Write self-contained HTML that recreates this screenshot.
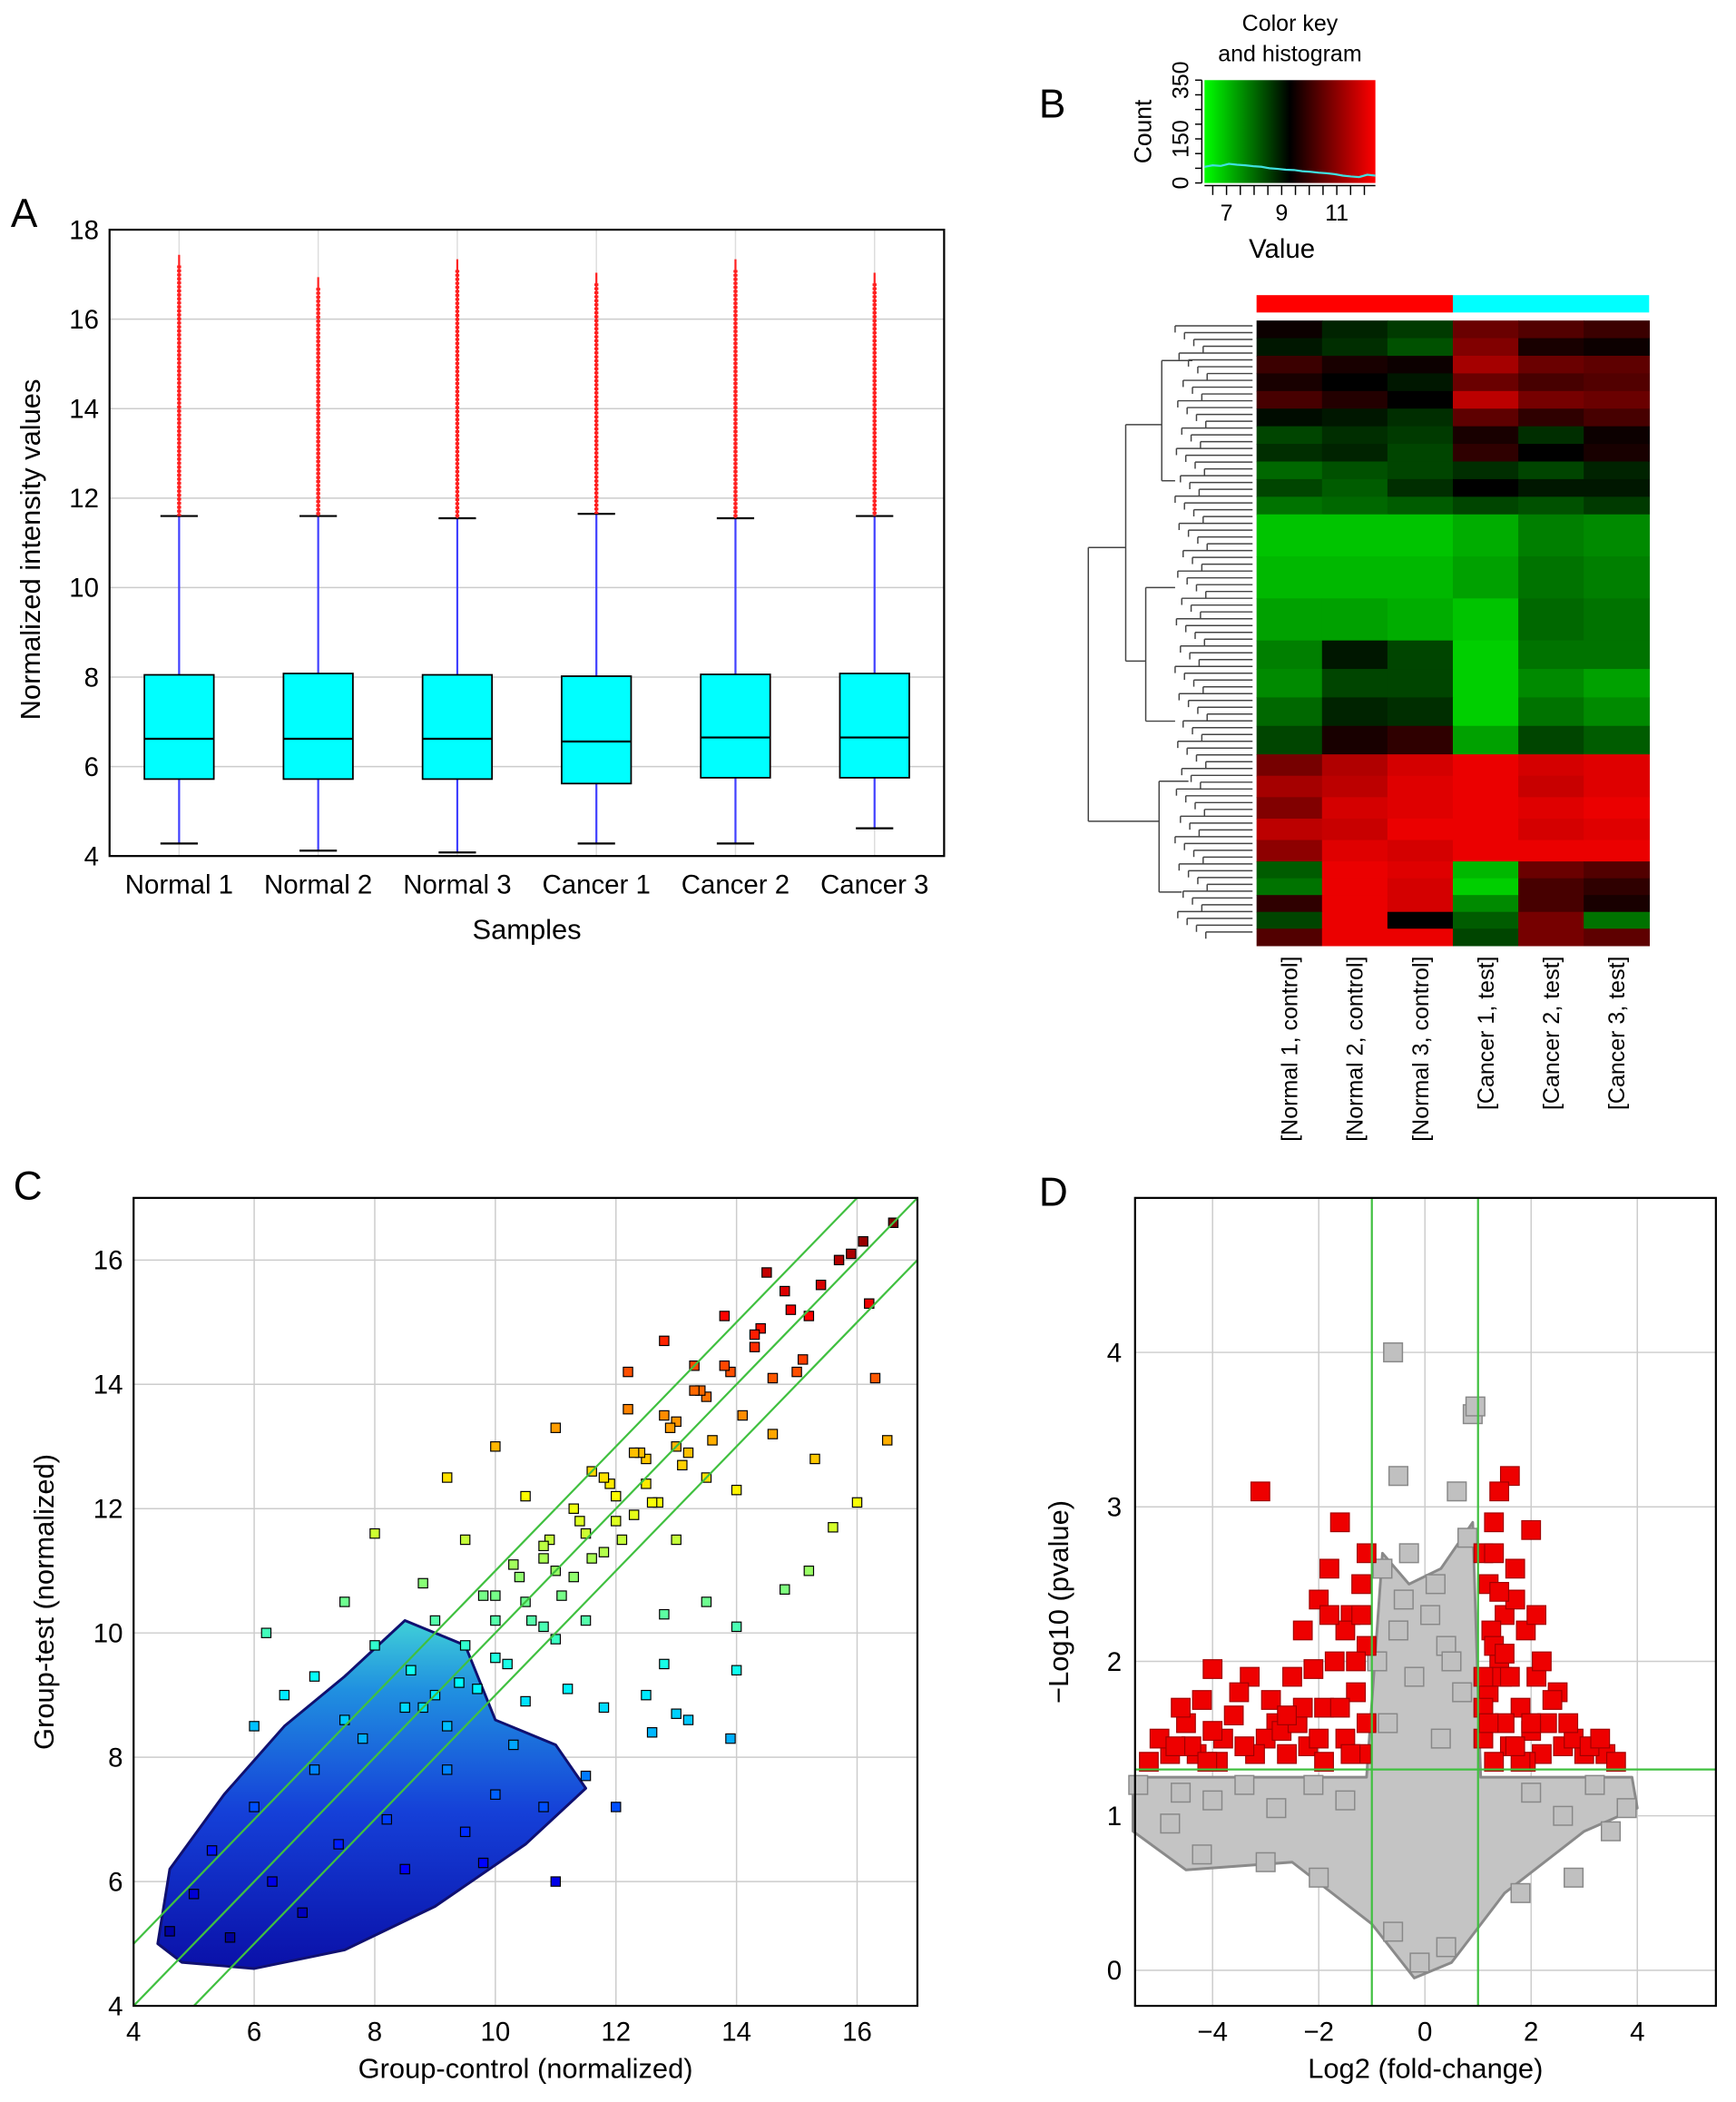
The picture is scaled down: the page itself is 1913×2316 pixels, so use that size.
<!DOCTYPE html>
<html><head><meta charset="utf-8">
<style>
html,body{margin:0;padding:0;background:#fff;}
svg{display:block;font-family:"Liberation Sans",sans-serif;}
</style></head>
<body>
<svg id="fig" width="1913" height="2316" viewBox="0 0 1300 1574" xmlns="http://www.w3.org/2000/svg">
<rect width="1300" height="1574" fill="#fff"/>
<text x="8" y="170" font-size="30">A</text>
<text x="778" y="88" font-size="30">B</text>
<text x="10" y="898" font-size="30">C</text>
<text x="778" y="903" font-size="30">D</text>
<g id="pA"></g>
<g id="pB"></g>
<g id="pC"></g>
<g id="pD"></g>
</svg>
<script>
// ---------- Panel A data ----------
const samples = ["Normal 1","Normal 2","Normal 3","Cancer 1","Cancer 2","Cancer 3"];
const q1 = [5.72,5.72,5.72,5.62,5.75,5.75];
const med = [6.62,6.62,6.62,6.56,6.65,6.65];
const q3 = [8.05,8.08,8.05,8.02,8.06,8.08];
const whiskLo = [4.28,4.12,4.08,4.28,4.28,4.62];
const whiskHi = [11.6,11.6,11.55,11.65,11.55,11.6];
const outMax = [17.2,16.7,17.1,16.8,17.1,16.8];
const aTicks = [4,6,8,10,12,14,16,18];
// ---------- Panel B data ----------
const hmCols = ["[Normal 1, control]","[Normal 2, control]","[Normal 3, control]","[Cancer 1, test]","[Cancer 2, test]","[Cancer 3, test]"];
const hmRowWeights = [1.3,1.3,1.3,1.3,1.3,1.3,1.3,1.3,1.3,1.3,1.3,3.1,3.1,3.1,2.1,2.1,2.1,2.1,1.58,1.58,1.58,1.58,1.58,1.24,1.24,1.24,1.24,1.24];
const hmValues = [
 [0.05,-0.15,-0.25,0.45,0.35,0.25],
 [-0.1,-0.2,-0.35,0.55,0.1,0.05],
 [0.25,0.1,0.05,0.7,0.45,0.4],
 [0.1,0.0,-0.1,0.45,0.3,0.35],
 [0.3,0.15,0.0,0.8,0.5,0.45],
 [-0.05,-0.1,-0.2,0.4,0.2,0.3],
 [-0.3,-0.2,-0.25,0.1,-0.2,0.05],
 [-0.2,-0.15,-0.3,0.2,0.0,0.1],
 [-0.45,-0.35,-0.3,-0.2,-0.3,-0.15],
 [-0.3,-0.4,-0.2,0.0,-0.1,-0.1],
 [-0.5,-0.45,-0.4,-0.3,-0.35,-0.25],
 [-0.85,-0.85,-0.85,-0.75,-0.55,-0.6],
 [-0.8,-0.8,-0.8,-0.7,-0.5,-0.55],
 [-0.7,-0.7,-0.75,-0.85,-0.45,-0.5],
 [-0.55,-0.1,-0.3,-0.9,-0.5,-0.5],
 [-0.6,-0.3,-0.3,-0.9,-0.6,-0.7],
 [-0.45,-0.15,-0.2,-0.9,-0.5,-0.6],
 [-0.3,0.1,0.2,-0.7,-0.3,-0.4],
 [0.5,0.75,0.9,1,0.9,0.95],
 [0.7,0.8,0.95,1,0.85,0.95],
 [0.55,0.9,0.95,1,0.95,1],
 [0.8,0.85,1,1,0.9,0.95],
 [0.6,0.95,0.9,1,1,1],
 [-0.4,1,0.95,-0.8,0.45,0.35],
 [-0.5,1,0.9,-0.9,0.3,0.2],
 [0.2,1,0.9,-0.6,0.3,0.1],
 [-0.3,1,0.0,-0.4,0.5,-0.5],
 [0.35,1,1,-0.3,0.5,0.4]
];
const keyTicks = [7,9,11];
const keyHist = [55,60,58,65,62,60,57,55,50,48,45,44,40,38,35,33,30,25,22,20,28,25];
// ---------- Panel C data ----------
const ctrlX = [4.6,5,5.3,5.6,6,6.3,6.8,7,7.4,7.8,8.2,8.5,8.8,9.2,9.5,10,10.3,11,11.5,12,12.6,13.2,13.9,10.8,9.8,
 6,6.5,7,7.5,8,8.6,9,9.4,10,10.5,11.2,11.8,12.5,13,14,11,12.8,
 6.2,7.5,8,8.8,9.5,10,10.8,11.5,12,12.8,13.5,14,14.8,15.2,15.6,13,
 9.2,10,10.5,11,11.6,12.2,12.5,13,13.5,14,14.6,16.5,16,15.3,
 12.2,12.8,13.3,13.8,14.3,14.8,15.2,15.7,16.1,16.6,15,16.3,16.2,14.5,
 9,9.5,10,10.5,11,11.5,12,12.5,13,13.5,10.2,10.8,11.3,11.8,12.3,12.7,13.2,8.5,9.2,9.7,
 10.4,10.9,11.4,11.9,12.4,12.9,13.4,13.9,14.4,14.9,15.4,15.9,
 10.6,11.1,11.6,12.1,12.6,13.1,13.6,14.1,14.6,15.1,
 9.8,10.3,10.8,11.3,11.8,12.3,12.8,13.3,13.8,14.3];
const testY = [5.2,5.8,6.5,5.1,7.2,6,5.5,7.8,6.6,8.3,7,6.2,8.8,7.8,6.8,7.4,8.2,6,7.7,7.2,8.4,8.6,8.3,7.2,6.3,
 8.5,9,9.3,8.6,9.8,9.4,10.2,9.2,9.6,8.9,9.1,8.8,9,8.7,9.4,9.9,9.5,
 10,10.5,11.6,10.8,11.5,10.6,11.2,10.2,11.8,10.3,10.5,10.1,10.7,11,11.7,11.5,
 12.5,13,12.2,13.3,12.6,13.6,12.4,13,12.5,12.3,13.2,13.1,12.1,12.8,
 14.2,14.7,14.3,15.1,14.6,15.5,15.1,16,16.3,16.6,14.2,14.1,15.3,15.8,
 9,9.8,10.2,10.5,11,11.6,12.2,12.8,13.4,13.8,9.5,10.1,10.9,11.3,11.9,12.1,12.9,8.8,8.5,9.1,
 10.9,11.5,11.8,12.4,12.9,13.3,13.9,14.2,14.9,15.2,15.6,16.1,
 10.2,10.6,11.2,11.5,12.1,12.7,13.1,13.5,14.1,14.4,
 10.6,11.1,11.4,12.0,12.5,12.9,13.5,13.9,14.3,14.8];
const cTicks = [4,6,8,10,12,14,16];
const cloudX = [4.4,4.8,6,7.5,9,10.5,11.5,11,10,9.5,8.5,7.5,6.5,5.5,4.6];
const cloudY = [5.0,4.7,4.6,4.9,5.6,6.6,7.5,8.2,8.6,9.8,10.2,9.3,8.5,7.4,6.2];
// ---------- Panel D data ----------
const redFC = [-3.1,-4,-3.3,-4.5,-4.8,-5.2,-4.2,-3.8,-3.5,-2.8,-2.5,-2.3,-2,-1.8,-1.6,-1.2,-1.1,-1.3,-1.5,-2.2,-1.9,-2.6,-3,-4.3,-3.9,-1.4,-1.7,-2.9,-1.2,-1.1,
 1.6,1.4,2,1.7,1.3,1.2,1.5,1.9,2.1,1.4,1.8,2.3,1.2,1.6,2.6,3,3.4,3.6,2.8,1.1,1.3,2.5,2.2,1.9,1.1,1.25,1.45,
 -5,-4.6,-4.4,-4.0,-3.6,-3.2,-2.7,-2.4,-2.0,-1.6,-1.3,-1.1,-1.5,-1.9,-2.3,-3.4,-4.1,-4.7,-2.1,-1.4,-1.2,-1.8,-2.6,
 1.1,1.3,1.5,1.7,2.0,2.2,2.4,2.7,3.1,3.3,1.2,1.4,1.6,1.8,2.1,1.1,1.3,1.5,1.7,2.0];
const redP = [3.1,1.95,1.9,1.6,1.4,1.35,1.75,1.5,1.8,1.6,1.9,2.2,2.4,2.6,2.9,2.5,2.1,1.8,1.5,1.45,1.7,1.4,1.5,1.4,1.35,2.3,2,1.75,1.4,1.6,
 3.2,3.1,2.85,2.6,2.9,2.5,2.3,2.2,1.9,2,1.7,1.6,1.8,1.45,1.45,1.4,1.4,1.35,1.5,1.5,1.35,1.8,1.4,1.35,2.7,2.2,1.9,
 1.5,1.7,1.45,1.55,1.65,1.4,1.55,1.6,1.5,1.7,2.0,2.7,2.2,1.35,1.7,1.45,1.35,1.45,1.95,1.4,2.3,2.3,1.65,
 1.7,2.1,1.6,2.4,1.55,2.0,1.75,1.6,1.45,1.5,1.6,2.45,1.9,1.35,2.3,1.9,2.7,2.05,1.45,1.6];
const grayFC = [-0.6,0.9,-0.5,0.6,-0.3,0.2,-0.8,0.8,-0.5,0.4,-0.2,0.7,-0.7,0.3,0.95,-0.9,0.1,-0.4,0.5,
 -5.4,-4.6,-4,-3.4,-2.8,-2.1,-1.5,3.8,3.2,2.6,2,-4.2,-3,-2,2.8,1.8,-0.1,0.4,-0.6,-4.8,3.5];
const grayP = [4,3.6,3.2,3.1,2.7,2.5,2.6,2.8,2.2,2.1,1.9,1.8,1.6,1.5,3.65,2.0,2.3,2.4,2.0,
 1.2,1.15,1.1,1.2,1.05,1.2,1.1,1.05,1.2,1.0,1.15,0.75,0.7,0.6,0.6,0.5,0.05,0.15,0.25,0.95,0.9];
const dTicksX = [-4,-2,0,2,4];
const dTicksY = [0,1,2,3,4];
const grayRegionX = [-5.5,-1.1,-0.8,-0.3,0.3,0.9,1.05,3.9,4,3,1.5,0.5,-0.2,-1,-2.5,-4.5,-5.5];
const grayRegionY = [1.25,1.25,2.7,2.5,2.6,2.9,1.25,1.25,1.05,0.9,0.5,0.05,-0.05,0.3,0.7,0.65,0.9];
const pThresh = 1.3, fcThresh = 1;

const NS = "http://www.w3.org/2000/svg";
function mk(tag, attrs, parent){const e=document.createElementNS(NS,tag);for(const k in attrs)e.setAttribute(k,attrs[k]);parent.appendChild(e);return e;}

// ===== Panel A =====
(function(){
 const g=document.getElementById('pA');
 const L=82,R=707,T=172,B=641;
 const y=v=>B-(v-4)/(18-4)*(B-T);
 const step=(R-L)/6, x=i=>L+step*(i+0.5);
 aTicks.forEach(t=>{
  const l=mk('line',{x1:L,x2:R,y1:y(t),y2:y(t),stroke:'#ccc','stroke-width':1},g);
  
  
  const tx=mk('text',{x:L-8,y:y(t)+7,'font-size':20,'text-anchor':'end'},g);tx.textContent=t;
  
  
 });
 samples.forEach((s,i)=>{
  mk('line',{x1:x(i),x2:x(i),y1:T,y2:B,stroke:'#ddd','stroke-width':1},g);
  const w=mk('line',{x1:x(i),x2:x(i),y1:y(whiskHi[i]),y2:y(whiskLo[i]),stroke:'#4040ff','stroke-width':1.5},g);
  
  
  [whiskHi[i],whiskLo[i]].forEach(v=>mk('line',{x1:x(i)-14,x2:x(i)+14,y1:y(v),y2:y(v),stroke:'#000','stroke-width':1.5},g));
  const o=mk('line',{x1:x(i),x2:x(i),y1:y(outMax[i]),y2:y(whiskHi[i]),stroke:'#ff2020','stroke-width':3,'stroke-dasharray':'2 1'},g);
  
  
  mk('line',{x1:x(i),x2:x(i),y1:y(outMax[i])-8,y2:y(whiskHi[i]),stroke:'#ff2020','stroke-width':1.5},g);
  const b=mk('rect',{x:x(i)-26,y:y(q3[i]),width:52,height:y(q1[i])-y(q3[i]),fill:'#00ffff',stroke:'#000','stroke-width':1.2},g);
  
  
  mk('line',{x1:x(i)-26,x2:x(i)+26,y1:y(med[i]),y2:y(med[i]),stroke:'#000','stroke-width':1.5},g);
  const tx=mk('text',{x:x(i),y:B+28,'font-size':20,'text-anchor':'middle'},g);tx.textContent=s;
  
  
 });
 mk('rect',{x:L,y:T,width:R-L,height:B-T,fill:'none',stroke:'#000','stroke-width':1.5},g);
 const xt=mk('text',{x:(L+R)/2,y:703,'font-size':21,'text-anchor':'middle'},g);xt.textContent='Samples';
 
 
 const yt=mk('text',{x:0,y:0,'font-size':21,'text-anchor':'middle',transform:`translate(30,${(T+B)/2+5}) rotate(-90)`},g);yt.textContent='Normalized intensity values';
 
 
})();

// ===== Panel B =====
(function(){
 const g=document.getElementById('pB');
 const defs=mk('defs',{},g);
 const gr=mk('linearGradient',{id:'kg',x1:0,x2:1,y1:0,y2:0},defs);
 mk('stop',{offset:0,'stop-color':'#00ff00'},gr);mk('stop',{offset:0.5,'stop-color':'#000'},gr);mk('stop',{offset:1,'stop-color':'#ff0000'},gr);
 const kL=902,kR=1030,kT=60,kB=137;
 const key=mk('rect',{x:kL,y:kT,width:kR-kL,height:kB-kT,fill:'url(#kg)'},g);
 
 
 const kx=v=>kL+(v-6.2)/(12.4-6.2)*(kR-kL);
 const ky=c=>kB-c/350*(kB-kT);
 const pts=keyHist.map((c,i)=>`${kL+i*(kR-kL)/(keyHist.length-1)},${ky(c)}`).join(' ');
 const hl=mk('polyline',{points:pts,fill:'none',stroke:'#40e0e0','stroke-width':1.5},g);
 
 
 mk('line',{x1:kL-2,x2:kL-2,y1:kT,y2:kB,stroke:'#000','stroke-width':1},g);
 [0,50,100,150,200,250,300,350].forEach(c=>mk('line',{x1:kL-7,x2:kL-2,y1:ky(c),y2:ky(c),stroke:'#000'},g));
 [[0,'0'],[150,'150'],[350,'350']].forEach(([c,s])=>{const t=mk('text',{x:0,y:0,'font-size':17,'text-anchor':'middle',transform:`translate(${kL-12},${ky(c)}) rotate(-90)`},g);t.textContent=s;});
 const ct=mk('text',{x:0,y:0,'font-size':18,'text-anchor':'middle',transform:`translate(862,${(kT+kB)/2}) rotate(-90)`},g);ct.textContent='Count';
 mk('line',{x1:kL,x2:kR,y1:kB+2,y2:kB+2,stroke:'#000'},g);
 [6.5,7,7.5,8,8.5,9,9.5,10,10.5,11,11.5,12].forEach(v=>mk('line',{x1:kx(v),x2:kx(v),y1:kB+2,y2:kB+9,stroke:'#000'},g));
 keyTicks.forEach(v=>{const t=mk('text',{x:kx(v),y:kB+28,'font-size':17,'text-anchor':'middle'},g);t.textContent=v;});
 const vt=mk('text',{x:960,y:193,'font-size':20,'text-anchor':'middle'},g);vt.textContent='Value';
 const t1=mk('text',{x:966,y:23,'font-size':17,'text-anchor':'middle'},g);t1.textContent='Color key';
 const t2=mk('text',{x:966,y:46,'font-size':17,'text-anchor':'middle'},g);t2.textContent='and histogram';
 const hL=941,hR=1235,hT=240,hB=708,cw=(hR-hL)/6;
 mk('rect',{x:hL,y:221,width:cw*3,height:13,fill:'#ff0000'},g);
 mk('rect',{x:hL+cw*3,y:221,width:cw*3,height:13,fill:'#00ffff'},g);
 const tot=hmRowWeights.reduce((a,b)=>a+b,0);
 let yy=hT;
 const col=v=>v<0?`rgb(0,${Math.round(-v*230)},0)`:`rgb(${Math.round(v*235)},0,0)`;
 hmValues.forEach((row,r)=>{
  const h=hmRowWeights[r]/tot*(hB-hT);
  row.forEach((v,c)=>{
   const cell=mk('rect',{x:hL+c*cw,y:yy,width:cw+0.5,height:h+0.5,fill:col(v)},g);
   
   
  });
  yy+=h;
 });
 hmCols.forEach((s,c)=>{
  const t=mk('text',{x:0,y:0,'font-size':17,'text-anchor':'end',transform:`translate(${hL+c*cw+cw/2+6},716) rotate(-90)`},g);t.textContent=s;
  
  
 });
 const d=mk('g',{stroke:'#444','stroke-width':1,fill:'none'},g);
 
 
 const segs=[[815,410,815,615],[815,410,843,410],[815,615,868,615],[843,318,843,495],[843,318,870,318],[843,495,858,495],[870,270,870,360],[870,270,893,270],[870,360,880,360],[858,440,858,540],[858,440,880,440],[858,540,880,540],[868,585,868,668],[868,585,890,585],[868,668,885,668]];
 segs.forEach(s=>mk('line',{x1:s[0],y1:s[1],x2:s[2],y2:s[3]},d));
 for(let i=0;i<90;i++){const yv=hT+4+i*5.1;const x0=880+((i*7)%25);mk('line',{x1:x0,y1:yv,x2:938,y2:yv},d);mk('line',{x1:x0,y1:yv,x2:x0,y2:yv+5},d);}
})();

// ===== Panel C =====
(function(){
 const g=document.getElementById('pC');
 const L=100,R=687,T=897,B=1502;
 const x=v=>L+(v-4)/(17-4)*(R-L), y=v=>B-(v-4)/(17-4)*(B-T);
 const defs=mk('defs',{},g);
 const gr=mk('linearGradient',{id:'cg',x1:0,x2:0,y1:1,y2:0},defs);
 mk('stop',{offset:0,'stop-color':'#0a10a8'},gr);mk('stop',{offset:0.45,'stop-color':'#1540d8'},gr);mk('stop',{offset:0.8,'stop-color':'#2090e0'},gr);mk('stop',{offset:1,'stop-color':'#40d0d8'},gr);
 cTicks.forEach(t=>{
  mk('line',{x1:x(t),x2:x(t),y1:T,y2:B,stroke:'#ccc'},g);
  mk('line',{x1:L,x2:R,y1:y(t),y2:y(t),stroke:'#ccc'},g);
  const a=mk('text',{x:x(t),y:B+26,'font-size':20,'text-anchor':'middle'},g);a.textContent=t;
  
  
  const b=mk('text',{x:L-8,y:y(t)+7,'font-size':20,'text-anchor':'end'},g);b.textContent=t;
  
  
 });
 const cp=cloudX.map((v,i)=>`${x(v)},${y(cloudY[i])}`).join(' ');
 const cl=mk('polygon',{points:cp,fill:'url(#cg)',stroke:'#101070','stroke-width':2,'stroke-linejoin':'round'},g);
 
 
 function jet(t){t=Math.max(0,Math.min(1,t));const r=Math.min(1,Math.max(0,1.5-Math.abs(4*t-3))),gg=Math.min(1,Math.max(0,1.5-Math.abs(4*t-2))),b=Math.min(1,Math.max(0,1.5-Math.abs(4*t-1)));return `rgb(${r*255|0},${gg*255|0},${b*255|0})`;}
 ctrlX.forEach((v,i)=>{
  const c=jet((testY[i]-4.8)/11.8);
  const p=mk('rect',{x:x(v)-3.5,y:y(testY[i])-3.5,width:7,height:7,fill:c,stroke:'#000','stroke-width':0.8},g);
  
  
 });
 [-1,0,1].forEach(o=>{
  const x0=Math.max(4,4-o),x1=Math.min(17,17-o);
  const l=mk('line',{x1:x(x0),y1:y(x0+o),x2:x(x1),y2:y(x1+o),stroke:'#40c040','stroke-width':1.5},g);
  
  
 });
 mk('rect',{x:L,y:T,width:R-L,height:B-T,fill:'none',stroke:'#000','stroke-width':1.5},g);
 const xt=mk('text',{x:(L+R)/2,y:1556,'font-size':21,'text-anchor':'middle'},g);xt.textContent='Group-control (normalized)';
 
 
 const yt=mk('text',{x:0,y:0,'font-size':21,'text-anchor':'middle',transform:`translate(40,${(T+B)/2}) rotate(-90)`},g);yt.textContent='Group-test (normalized)';
 
 
})();

// ===== Panel D =====
(function(){
 const g=document.getElementById('pD');
 const L=850,R=1285,T=897,B=1502;
 const x0=-5.46,x1=5.48,y0=-0.23,y1=5.0;
 const x=v=>L+(v-x0)/(x1-x0)*(R-L), y=v=>B-(v-y0)/(y1-y0)*(B-T);
 dTicksX.forEach(t=>{mk('line',{x1:x(t),x2:x(t),y1:T,y2:B,stroke:'#ccc'},g);
  const a=mk('text',{x:x(t),y:B+26,'font-size':20,'text-anchor':'middle'},g);a.textContent=t<0?'\u2212'+(-t):t;
  
  });
 dTicksY.forEach(t=>{mk('line',{x1:L,x2:R,y1:y(t),y2:y(t),stroke:'#ccc'},g);
  const b=mk('text',{x:L-10,y:y(t)+7,'font-size':20,'text-anchor':'end'},g);b.textContent=t;
  
  });
 const rp=grayRegionX.map((v,i)=>`${x(v)},${y(grayRegionY[i])}`).join(' ');
 const gp=mk('polygon',{points:rp,fill:'#c4c4c4',stroke:'#8a8a8a','stroke-width':2,'stroke-linejoin':'round'},g);
 
 
 const s=14;
 grayFC.forEach((v,i)=>{const p=mk('rect',{x:x(v)-s/2,y:y(grayP[i])-s/2,width:s,height:s,fill:'#c0c0c0',stroke:'#888','stroke-width':1},g);
  
  });
 redFC.forEach((v,i)=>{const p=mk('rect',{x:x(v)-s/2,y:y(redP[i])-s/2,width:s,height:s,fill:'#ee0000',stroke:'#a00000','stroke-width':0.8},g);
  
  });
 [-fcThresh,fcThresh].forEach(v=>{const l=mk('line',{x1:x(v),x2:x(v),y1:T,y2:B,stroke:'#40c040','stroke-width':1.5},g);
  
  });
 const h=mk('line',{x1:L,x2:R,y1:y(pThresh),y2:y(pThresh),stroke:'#40c040','stroke-width':1.5},g);
 
 
 mk('rect',{x:L,y:T,width:R-L,height:B-T,fill:'none',stroke:'#000','stroke-width':1.5},g);
 const xt=mk('text',{x:(L+R)/2,y:1556,'font-size':21,'text-anchor':'middle'},g);xt.textContent='Log2 (fold-change)';
 
 
 const yt=mk('text',{x:0,y:0,'font-size':21,'text-anchor':'middle',transform:`translate(800,${(T+B)/2}) rotate(-90)`},g);yt.textContent='\u2212Log10 (pvalue)';
 
 
})();
</script>
</body></html>
